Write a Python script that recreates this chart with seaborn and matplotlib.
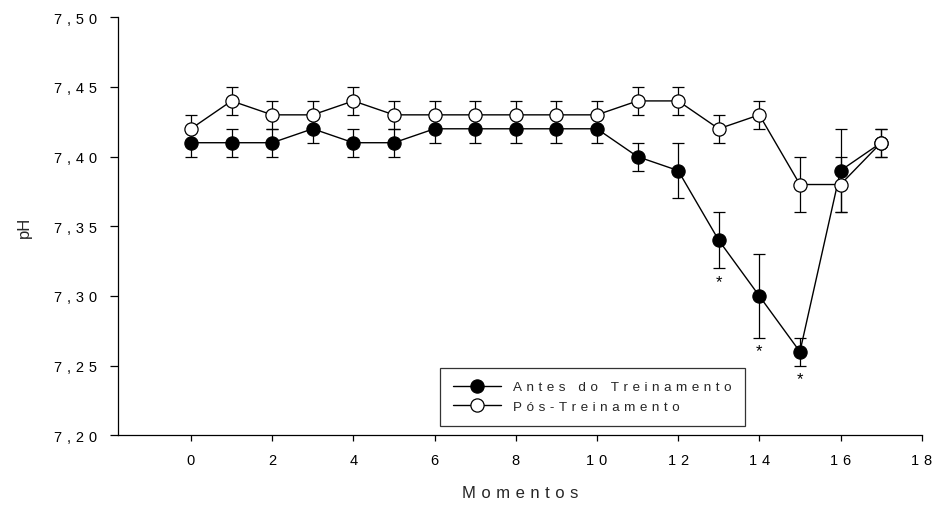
import matplotlib
matplotlib.use("Agg")
import matplotlib.pyplot as plt
from matplotlib.ticker import FuncFormatter
import seaborn as sns
import pandas as pd

momentos = list(range(18))
antes = [7.41, 7.41, 7.41, 7.42, 7.41, 7.41, 7.42, 7.42, 7.42, 7.42, 7.42,
         7.40, 7.39, 7.34, 7.30, 7.26, 7.39, 7.41]
antes_err = [0.01, 0.01, 0.01, 0.01, 0.01, 0.01, 0.01, 0.01, 0.01, 0.01, 0.01,
             0.01, 0.02, 0.02, 0.03, 0.01, 0.03, 0.01]
pos = [7.42, 7.44, 7.43, 7.43, 7.44, 7.43, 7.43, 7.43, 7.43, 7.43, 7.43,
       7.44, 7.44, 7.42, 7.43, 7.38, 7.38, 7.41]
pos_err = [0.01, 0.01, 0.01, 0.01, 0.01, 0.01, 0.01, 0.01, 0.01, 0.01, 0.01,
           0.01, 0.01, 0.01, 0.01, 0.02, 0.02, 0.01]
signif = [13, 14, 15]
labels = ["Antes do Treinamento", "Pós-Treinamento"]
x_ticks = list(range(0, 19, 2))
y_ticks = [7.20, 7.25, 7.30, 7.35, 7.40, 7.45, 7.50]

sns.set_theme(style="ticks")
plt.rcParams["font.family"] = ["Liberation Sans", "DejaVu Sans"]

GAP = "\u2004"  # three-per-em space used as letter spacing


def spaced(s):
    return GAP.join(s)


df = pd.DataFrame({
    "Momentos": momentos * 2,
    "pH": antes + pos,
    "err": antes_err + pos_err,
    "Grupo": [labels[0]] * len(momentos) + [labels[1]] * len(momentos),
})

fig = plt.figure(figsize=(9.33, 5.06), dpi=100)
ax = fig.add_axes([0.1268, 0.1377, 0.8611, 0.8261])

styles = {labels[0]: "black", labels[1]: "white"}
for i, (name, face) in enumerate(styles.items()):
    sub = df[df["Grupo"] == name]
    ax.errorbar(sub["Momentos"], sub["pH"], yerr=sub["err"], fmt="none",
                ecolor="black", elinewidth=0.9, capsize=4.0, capthick=0.9,
                zorder=2 + 2 * i)
    sns.lineplot(data=sub, x="Momentos", y="pH", ax=ax, color="black",
                 linewidth=1.0, marker="o", markersize=9.5,
                 markerfacecolor=face, markeredgecolor="black",
                 markeredgewidth=0.9, label=spaced(name), zorder=3 + 2 * i,
                 errorbar=None)

# significance marks below the lower whisker
for m in signif:
    y = antes[m] - antes_err[m]
    ax.annotate("*", xy=(m, y), xytext=(0, -4), textcoords="offset points",
                ha="center", va="top", fontsize=12, color="black")

ax.set_xlim(-1.79, 18)
ax.set_ylim(7.20, 7.50)
ax.set_xticks(x_ticks)
ax.set_yticks(y_ticks)
ax.xaxis.set_major_formatter(FuncFormatter(lambda v, p: spaced(f"{v:.0f}")))
ax.yaxis.set_major_formatter(
    FuncFormatter(lambda v, p: spaced(f"{v:.2f}".replace(".", ","))))
ax.tick_params(axis="x", direction="out", length=4.5, width=0.9,
               colors="black", labelsize=10.5, pad=8)
ax.tick_params(axis="y", direction="out", length=6, width=0.9,
               colors="black", labelsize=10.5, pad=9)
for s in ["top", "right"]:
    ax.spines[s].set_visible(False)
for s in ["left", "bottom"]:
    ax.spines[s].set_color("black")
    ax.spines[s].set_linewidth(0.9)

ax.set_xlabel(spaced("Momentos"), fontsize=12, labelpad=13)
ax.set_ylabel("pH", fontsize=12, labelpad=16)

leg = ax.legend(loc="lower left", bbox_to_anchor=(0.4004, 0.022),
                borderaxespad=0, frameon=True, fancybox=False,
                edgecolor="black", fontsize=9.7, handlelength=3.5,
                handletextpad=0.9, borderpad=1.0, labelspacing=0.5)
leg.get_frame().set_linewidth(0.9)

fig.savefig("out.png", dpi=100)
